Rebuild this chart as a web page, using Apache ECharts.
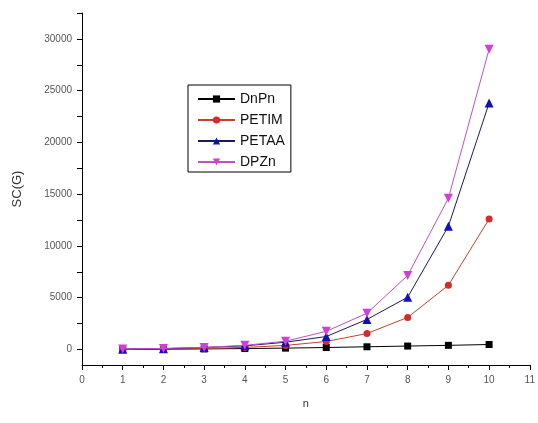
<!DOCTYPE html>
<html><head><meta charset="utf-8">
<script src="https://cdn.jsdelivr.net/npm/echarts@6/dist/echarts.min.js"></script>
<style>html,body{margin:0;padding:0;background:#fff}#c{width:538px;height:423px}</style>
</head><body><div id="c"></div>
<script>
var nValues = [1, 2, 3, 4, 5, 6, 7, 8, 9, 10];
var seriesNames = ['DnPn', 'PETIM', 'PETAA', 'DPZn'];
var dnpn  = [10, 25, 50, 90, 130, 190, 260, 330, 400, 480];
var petim = [20, 50, 100, 200, 390, 770, 1540, 3100, 6200, 12600];
var petaa = [30, 80, 200, 350, 700, 1250, 2900, 5050, 11900, 23800];
var dpzn  = [40, 100, 200, 400, 800, 1750, 3500, 7150, 14600, 29000];
var yTickValues = [0, 2500, 5000, 7500, 10000, 12500, 15000, 17500, 20000, 22500, 25000, 27500, 30000, 32500];
var yLabelValues = [0, 5000, 10000, 15000, 20000, 25000, 30000];

function pairs(arr){ return nValues.map(function(n,i){ return [n, arr[i]]; }); }

var colors = ['#000000', '#d42a2a', '#1010c0', '#d63cd6'];
var lineColors = ['#000000', '#c8402a', '#1a1a60', '#c050c8'];
var symbols = ['rect', 'circle', 'triangle', 'triangle'];
var rot = [0, 0, 0, 180];
var sizes = [7, 7, 9, 9];
var allData = [dnpn, petim, petaa, dpzn];

var chart = echarts.init(document.getElementById('c'), null, {renderer: 'canvas'});
var font = 'Liberation Sans, Arial, sans-serif';
chart.setOption({
  animation: false,
  backgroundColor: '#fff',
  grid: {left: 82, right: 6, top: 13, bottom: 58},
  legend: {
    data: seriesNames.map(function(n, i){ return {name: n, itemStyle: {color: colors[i]}}; }),
    orient: 'vertical',
    left: 188, top: 85,
    itemWidth: 37, itemHeight: 9, itemGap: 7,
    padding: [7, 6, 3, 9],
    borderColor: '#000', borderWidth: 1,
    textStyle: {fontFamily: font, fontSize: 14, color: '#111'}
  },
  xAxis: {
    type: 'value', min: 0, max: 11, interval: 1,
    name: 'n', nameLocation: 'middle', nameGap: 33,
    nameTextStyle: {fontFamily: font, fontSize: 11, color: '#333'},
    axisLine: {onZero: false, lineStyle: {color: '#000', width: 1}},
    axisTick: {show: true, length: 5, lineStyle: {color: '#000'}},
    minorTick: {show: true, splitNumber: 2, length: 3, lineStyle: {color: '#000'}},
    axisLabel: {fontFamily: font, fontSize: 10, color: '#555', margin: 10},
    splitLine: {show: false}
  },
  yAxis: {
    type: 'value', min: -1500, max: 32500,
    name: 'SC(G)', nameLocation: 'middle', nameGap: 58, nameRotate: 90,
    nameTextStyle: {fontFamily: font, fontSize: 13, color: '#333'},
    axisLine: {show: true, onZero: false, lineStyle: {color: '#000', width: 1}},
    axisTick: {show: true, length: 5, customValues: yTickValues, lineStyle: {color: '#000'}},
    axisLabel: {fontFamily: font, fontSize: 10, color: '#555', margin: 10, customValues: yLabelValues,
      formatter: function(v){ return String(v); }},
    splitLine: {show: false}
  },
  series: seriesNames.map(function(name, i){
    return {
      name: name, type: 'line', data: pairs(allData[i]),
      symbol: symbols[i], symbolSize: sizes[i], symbolRotate: rot[i],
      showAllSymbol: true,
      itemStyle: {color: colors[i]},
      lineStyle: {color: lineColors[i], width: 1},
      z: 2 + i
    };
  })
});
</script>
</body></html>
